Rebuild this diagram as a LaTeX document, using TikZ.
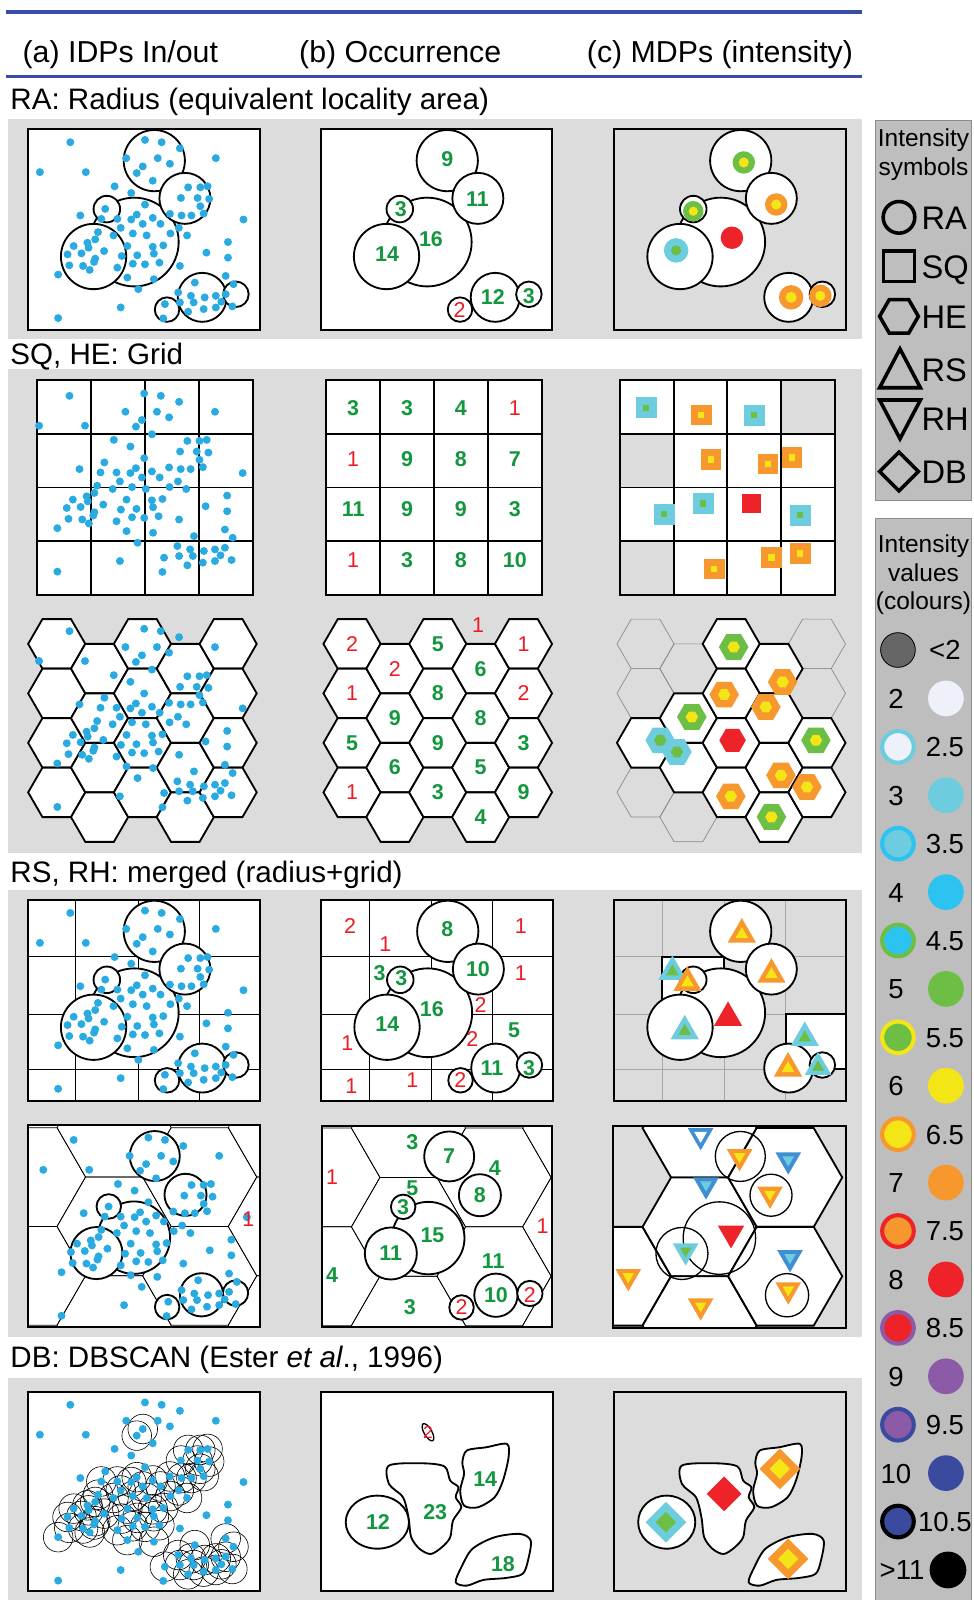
\documentclass[tikz,border=0pt]{standalone}
\usepackage{fontspec}
\setmainfont{Liberation Sans}
\usetikzlibrary{calc}

\definecolor{idpblue}{HTML}{29ABE2}
\definecolor{numgreen}{HTML}{12973F}
\definecolor{numred}{HTML}{ED1C24}
\definecolor{bandgray}{HTML}{DCDCDC}
\definecolor{legendgray}{HTML}{BEBEBE}
\definecolor{rulenavy}{HTML}{3A4DA6}
\definecolor{vwhite}{HTML}{EEF0FA}
\definecolor{vcyan}{HTML}{6DCCDD}
\definecolor{vblue}{HTML}{2DC3F0}
\definecolor{vgreen}{HTML}{6DBE45}
\definecolor{vyellow}{HTML}{F4E516}
\definecolor{vorange}{HTML}{F7982E}
\definecolor{vred}{HTML}{EE2229}
\definecolor{vpurple}{HTML}{8C5BA7}
\definecolor{vnavy}{HTML}{3A4B9F}
\definecolor{rhblue}{HTML}{3F8FD2}

% point sample (panel-local), third field: 1 = core point of a DBSCAN cluster
\newcommand\IDPdata{%
41.7/13.0/0,114.9/10.7/0,131.2/13.0/0,149.1/18.9/0,96.5/28.6/0,112.7/36.7/1,127.4/28.6/0,139.3/34.1/0,184.3/28.6/0,11.9/42.3/0,
56.9/42.3/0,106.8/43.2/1,122.5/50.7/0,85.1/56.2/0,101.4/62.7/0,157.2/57.2/1,169.1/57.2/1,176.2/56.2/1,150.1/67.6/1,166.4/67.6/1,
177.8/68.6/1,169.1/75.7/1,114.9/74.1/0,75.9/78.3/0,51.5/84.8/0,72.1/88.1/1,87.8/88.1/1,101.4/88.7/1,106.8/83.9/1,122.5/87.1/1,
139.3/83.2/1,150.7/84.8/1,160.4/84.8/1,172.4/82.9/1,211.4/88.7/0,112.7/93.0/1,130.1/93.0/1,91.1/96.9/1,148.0/96.9/1,68.8/101.1/1,
84.0/104.3/1,103.0/102.4/1,116.5/104.3/1,139.8/102.4/1,156.1/104.3/1,66.1/108.2/1,58.5/111.5/1,45.0/114.7/1,59.6/116.4/1,97.6/114.7/1,
122.5/115.4/1,132.8/114.1/1,196.2/110.8/0,39.0/122.9/1,52.6/121.9/1,66.1/127.1/1,74.8/119.6/1,92.1/124.5/1,107.3/123.8/1,123.6/122.2/1,
175.1/121.2/0,196.2/126.1/0,65.0/130.3/1,40.7/133.6/1,54.2/134.2/1,60.7/138.1/1,87.8/135.9/1,103.0/132.0/1,114.9/132.6/1,129.0/131.0/1,
149.1/134.2/0,29.8/142.7/1,97.6/145.6/1,123.6/147.2/1,163.7/150.5/1,194.0/144.0/1,108.4/157.0/0,147.4/160.2/1,201.6/152.1/1,159.9/163.5/1,
173.4/165.1/1,184.3/163.5/1,194.0/161.9/1,134.4/171.6/1,149.1/170.0/1,162.6/170.0/1,172.4/176.5/1,184.3/174.9/1,189.7/169.3/1,200.5/173.9/1,
91.1/174.9/0,29.8/185.3/0,132.8/185.6/0,157.2/179.1/1}
\newcommand\IDPs{\foreach \px/\py/\core in \IDPdata {\fill[idp] (\px,\py) circle[radius=3.9];}}
\newcommand\EpsRings{\foreach \px/\py/\core in \IDPdata {\ifnum\core=1 \draw[eps] (\px,\py) circle[radius=14.5];\fi}}

% symbol outlines
\newcommand\shpRA[1]{(0,0) circle[radius=#1]}
\newcommand\shpSQ[1]{(-#1,-#1) rectangle (#1,#1)}
\newcommand\shpHE[1]{(0:#1) -- (60:#1) -- (120:#1) -- (180:#1) -- (240:#1) -- (300:#1) -- cycle}
\newcommand\shpRS[1]{(-90:#1) -- (30:#1) -- (150:#1) -- cycle}
\newcommand\shpRH[1]{(90:#1) -- (210:#1) -- (330:#1) -- cycle}
\newcommand\shpDB[1]{(0:#1) -- (90:#1) -- (180:#1) -- (270:#1) -- cycle}
% intensity mark: shape, x, y, size, outer, inner, inner ratio
\newcommand\IntMark[7]{%
  \begin{scope}[shift={(#2,#3)}]
    \expandafter\let\expandafter\markshape\csname shp#1\endcsname
    \pgfmathsetmacro\markinner{#4*#7}
    \fill[#5] \markshape{#4};
    \fill[#6] \markshape{\markinner};
  \end{scope}}

% radius zones (RA, RS)
\newcommand\RAzones[2]{%
  \draw[#1] (124,31) circle[radius=30];
  \draw[#1] (104.4,110.8) circle[radius=43.5];
  \draw[#1] (154,68) circle[radius=25];
  \draw[#1] (64.5,125) circle[radius=32];
  \draw[#1] (77.5,78.5) circle[radius=13];
  \draw[#1] (171,165) circle[radius=24];
  \ifnum#2=1 \draw[#1] (136.5,177) circle[radius=12];\fi
  \draw[#1] (204,162) circle[radius=12.5];}
% radius zones (RH)
\newcommand\RHzones[2]{%
  \draw[#1] (124.5,30) circle[radius=24.5];
  \draw[#1] (154.6,68) circle[radius=20.6];
  \draw[#1] (104,110) circle[radius=35.5];
  \ifnum#2=1 \draw[#1] (79.4,79.4) circle[radius=12];\fi
  \draw[#1] (67.3,125.1) circle[radius=25.5];
  \draw[#1] (170.3,166) circle[radius=21.2];
  \ifnum#2=1 \draw[#1] (136.6,178) circle[radius=12];
    \draw[#1] (203.6,164.3) circle[radius=12.4];\fi}
\newcommand\RSgrid[1]{%
  \foreach \gx in {47,108,168} {\draw[#1] (\gx,0) -- (\gx,197.3);}
  \foreach \gy in {56,112,166} {\draw[#1] (0,\gy) -- (227.2,\gy);}}
\newcommand\SQgrid{%
  \foreach \k in {1,2,3} {\draw[frame] (52.8*\k,0) -- (52.8*\k,210.5);
    \draw[frame] (0,52.63*\k) -- (211.2,52.63*\k);}
  \draw[frame] (0,0) rectangle (211.2,210.5);}

% hexagons
\newcommand\bighex{(55.9,0) -- (27.95,48.4) -- (-27.95,48.4) -- (-55.9,0) -- (-27.95,-48.4) -- (27.95,-48.4) -- cycle}
\newcommand\RHcentres{0.7/50.6,0.7/147.4,84.6/2.2,84.6/99,84.6/195.8,168.5/50.6,168.5/147.4,252.4/2.2,252.4/99,252.4/195.8}
\newcommand\smallhex{(28,0) -- (14,24.25) -- (-14,24.25) -- (-28,0) -- (-14,-24.25) -- (14,-24.25) -- cycle}
\newcommand\HEall{0/0,0/1,0/2,0/3,1/0,1/1,1/2,1/3,2/0,2/1,2/2,2/3,3/0,3/1,3/2,3/3,4/0,4/1,4/2,4/3}
\newcommand\HEcells[2]{\foreach \i/\j in #2 {%
  \pgfmathsetmacro\hx{28+42*\i}\pgfmathsetmacro\hy{24.25+48.5*\j+24.25*mod(\i,2)}%
  \draw[#1,shift={(\hx,\hy)}] \smallhex;}}

% DBSCAN clusters
\newcommand\blobTwentyThree{plot[smooth cycle] coordinates {(66.4,72.5) (99.1,70.3) (120.9,73.5) (126.4,87.3) (134.5,93.8) (131.8,103.6) (137.3,113.4) (129.1,126.5) (126.4,142.8) (118.2,152.6) (107.3,159.2) (96.4,154.2) (88.2,142.8) (85.5,123.2) (80.1,103.6) (66.4,90.5)}}
\newcommand\blobFourteen{plot[smooth cycle] coordinates {(142.7,57.8) (161.8,54.6) (181.9,51.3) (183.6,64.4) (178.1,87.3) (169.9,103.6) (153.6,113.4) (140.0,111.8) (136.2,97.1) (140.0,80.7) (138.3,69.3)}}
\newcommand\blobEighteen{plot[smooth cycle] coordinates {(131.8,186.9) (137.3,172.2) (148.1,154.2) (169.9,142.8) (194.4,139.5) (205.3,146.1) (202.6,165.7) (197.2,178.8) (180.8,182.7) (159.0,184.6) (142.7,190.2)}}

\begin{document}
\begin{tikzpicture}[x=1pt,y=-1pt,
    idp/.style={fill=idpblue},
    zone/.style={draw=black, line width=1.8, fill=white},
    thinzone/.style={draw=black, line width=1.3},
    eps/.style={draw=black, line width=0.6},
    frame/.style={draw=black, line width=1.9},
    cell/.style={draw=black, line width=1.9, fill=white},
    hexcell/.style={draw=black, line width=1.8, fill=white},
    greyhex/.style={draw=black!45, line width=0.7},
    thingrid/.style={draw=black, line width=0.7},
    greygrid/.style={draw=black!35, line width=0.7},
    num/.style={text=numgreen, font=\bfseries\fontsize{21}{21}\selectfont, inner sep=0pt},
    rnum/.style={text=numred, font=\fontsize{21}{21}\selectfont, inner sep=0pt},
    head/.style={anchor=base west, inner sep=0pt, font=\fontsize{29.7}{30}\selectfont},
    title/.style={anchor=base west, inner sep=0pt, font=\fontsize{29}{29}\selectfont},
    legendbox/.style={draw=black!45, fill=legendgray, line width=0.8},
    legendline/.style={draw=black, line width=3.5},
    legendtxt/.style={anchor=base, inner sep=0pt, font=\fontsize{24}{24}\selectfont},
    legnum/.style={anchor=base, inner sep=0pt, font=\fontsize{27}{27}\selectfont},
    legsym/.style={anchor=base west, inner sep=0pt, font=\fontsize{32}{32}\selectfont}
]
    \useasboundingbox (0,0) rectangle (954,1568);
    \fill[white] (0,0) rectangle (954,1568);

    % column heads
    \draw[rulenavy, line width=3.5] (6,12) -- (845,12);
    \draw[rulenavy, line width=3.5] (6,75) -- (845,75);
    \node[head] (head-a) at (22,61.5) {(a) IDPs In/out};
    \node[head] (head-b) at (293,61.5) {(b) Occurrence};
    \node[head] (head-c) at (575,61.5) {(c) MDPs (intensity)};

    % ---------------- RA
    \fill[bandgray] (8,117) rectangle (845,332);
    \node[title] (ra-title) at (10,107.5) {RA: Radius (equivalent locality area)};
    \begin{scope}[shift={(27.2,126.4)}]
        \fill[white] (0,0) rectangle (227.2,197);
        \RAzones{zone}{1}
        \IDPs
        \draw[frame] (0,0) rectangle (227.2,197);
    \end{scope}
    \begin{scope}[shift={(314.3,126.4)}]
        \fill[white] (0,0) rectangle (226.5,197);
        \RAzones{zone}{1}
        \node[num] (ra-n9) at (124,29.6) {9};
        \node[num] (ra-n11) at (153.7,68.6) {11};
        \node[num] (ra-n3a) at (78.5,78.3) {3};
        \node[num] (ra-n16) at (108,107.6) {16};
        \node[num] (ra-n14) at (65,123) {14};
        \node[num] (ra-n12) at (168.6,165) {12};
        \node[num] (ra-n3b) at (204,164) {3};
        \node[rnum] (ra-n2) at (136,177.5) {2};
        \draw[frame] (0,0) rectangle (226.5,197);
    \end{scope}
    \begin{scope}[shift={(601.9,126.4)}]
        \RAzones{zone}{0}
        \IntMark{RA}{127}{32.8}{11}{vgreen}{vyellow}{0.45}
        \IntMark{RA}{158.8}{74}{11}{vorange}{vyellow}{0.45}
        \IntMark{RA}{77.5}{80.6}{10}{vgreen}{vyellow}{0.45}
        \IntMark{RA}{115.4}{106.6}{11}{vred}{vred}{0.45}
        \IntMark{RA}{60.7}{119}{12}{vcyan}{vgreen}{0.42}
        \IntMark{RA}{173.4}{165}{12}{vorange}{vyellow}{0.45}
        \IntMark{RA}{202}{163.5}{11}{vorange}{vyellow}{0.45}
        \draw[frame] (0,0) rectangle (227.1,197);
    \end{scope}

    % ---------------- SQ, HE
    \fill[bandgray] (8,362) rectangle (845,836);
    \node[title] (sq-title) at (10,357.5) {SQ, HE: Grid};
    \begin{scope}[shift={(36.5,372.5)}]
        \fill[white] (0,0) rectangle (211.2,210.5);
        \SQgrid
    \end{scope}
    \begin{scope}[shift={(26.4,374.9)}]
        \IDPs
    \end{scope}
    \begin{scope}[shift={(319.7,372.5)}]
        \fill[white] (0,0) rectangle (211.2,210.5);
        \SQgrid
        \foreach \i/\j/\v/\s in {0/0/3/num,1/0/3/num,2/0/4/num,3/0/1/rnum,
            0/1/1/rnum,1/1/9/num,2/1/8/num,3/1/7/num,
            0/2/11/num,1/2/9/num,2/2/9/num,3/2/3/num,
            0/3/1/rnum,1/3/3/num,2/3/8/num,3/3/10/num}
            {\node[\s] (sq-\i-\j) at ({26.4+52.8*\i},{27.5+49.5*\j}) {\v};}
    \end{scope}
    \begin{scope}[shift={(607.3,372.5)}]
        \fill[bandgray] (0,0) rectangle (211.2,210.5);
        \foreach \i/\j in {0/0,1/0,2/0,1/1,2/1,3/1,0/2,1/2,2/2,3/2,1/3,2/3,3/3}
            {\fill[white] ({52.8*\i},{52.63*\j}) rectangle +(52.8,52.63);}
        \SQgrid
        \foreach \mx/\my in {26.1/27.1,131.7/34.3,43.7/131.4,81.7/120.9,177/132.4}
            {\IntMark{SQ}{\mx}{\my}{10.3}{vcyan}{vgreen}{0.3}}
        \foreach \mx/\my in {80.1/34.3,89.7/77.8,145.4/82.4,168.7/75.8,92.7/185.3,148.7/173.9,177/169.9}
            {\IntMark{SQ}{\mx}{\my}{10}{vorange}{vyellow}{0.3}}
        \IntMark{SQ}{129.1}{120.9}{9.3}{vred}{vred}{0.3}
    \end{scope}

    \begin{scope}[shift={(27.6,606.75)}]
        \HEcells{hexcell}{\HEall}
    \end{scope}
    \begin{scope}[shift={(26.4,605.5)}]
        \IDPs
    \end{scope}
    \begin{scope}[shift={(317,606.75)}]
        \HEcells{hexcell}{\HEall}
        \foreach \i/\j/\v/\s in {0/0/2/rnum,0/1/1/rnum,0/2/5/num,0/3/1/rnum,
            1/0/2/rnum,1/1/9/num,1/2/6/num,
            2/0/5/num,2/1/8/num,2/2/9/num,2/3/3/num,
            3/0/6/num,3/1/8/num,3/2/5/num,3/3/4/num,
            4/0/1/rnum,4/1/2/rnum,4/2/3/num,4/3/9/num}
            {\node[\s] (he-\i-\j) at ({28+42*\i},{24.25+48.5*\j+24.25*mod(\i,2)}) {\v};}
        \node[rnum] (he-top) at (151.5,6) {1};
    \end{scope}
    \begin{scope}[shift={(604.6,606.75)}]
        \HEcells{greyhex}{{0/0,0/1,0/3,1/0,1/3,4/0,4/1}}
        \HEcells{hexcell}{{0/2,1/1,1/2,2/0,2/1,2/2,2/3,3/0,3/1,3/2,3/3,4/2,4/3}}
        \foreach \mx/\my in {114.4/27.25,73.4/95.85,195/118.75,151.4/193.85}
            {\IntMark{HE}{\mx}{\my}{14.5}{vgreen}{vyellow}{0.42}}
        \foreach \mx/\my in {162.4/61.55,105.1/73.95,145.9/86.05,160.7/153.05,186.2/164.45,111.6/173.65}
            {\IntMark{HE}{\mx}{\my}{14.5}{vorange}{vyellow}{0.42}}
        \IntMark{HE}{42.4}{118.75}{14.5}{vcyan}{vgreen}{0.42}
        \IntMark{HE}{58.8}{130.15}{14.5}{vcyan}{vgreen}{0.42}
        \IntMark{HE}{113.3}{118.75}{13}{vred}{vred}{0.42}
    \end{scope}

    % ---------------- RS, RH
    \fill[bandgray] (8,872) rectangle (845,1310);
    \node[title] (rs-title) at (10,864.5) {RS, RH: merged (radius+grid)};
    \begin{scope}[shift={(27.2,881.7)}]
        \fill[white] (0,0) rectangle (227.2,197.3);
        \RSgrid{thingrid}
        \RAzones{zone}{1}
        \IDPs
        \draw[frame] (0,0) rectangle (227.2,197.3);
    \end{scope}
    \begin{scope}[shift={(314.8,881.7)}]
        \fill[white] (0,0) rectangle (227.2,197.3);
        \RSgrid{thingrid}
        \RAzones{zone}{1}
        \foreach \lx/\ly/\v/\s [count=\n] in {28.2/25.8/2/rnum,62.7/43.1/1/rnum,123.7/28.4/8/num,195.5/25.8/1/rnum,
            57.2/71.9/3/num,78.4/76.4/3/num,153.6/67.6/10/num,195.5/71.9/1/rnum,
            108.4/107.5/16/num,156.2/103.6/2/rnum,64.8/122.2/14/num,189/128.1/5/num,
            148.2/136.2/2/rnum,25.6/140.5/1/rnum,167.2/164.7/11/num,203.7/164.7/3/num,
            29.4/183/1/rnum,89.3/177.1/1/rnum,136.2/176.4/2/rnum}
            {\node[\s] (rs-n\n) at (\lx,\ly) {\v};}
        \draw[frame] (0,0) rectangle (227.2,197.3);
    \end{scope}
    \begin{scope}[shift={(601.9,881.7)}]
        \fill[bandgray] (0,0) rectangle (227.2,197.3);
        \RSgrid{greygrid}
        \draw[cell] (47,56) rectangle (108,112);
        \draw[cell] (168,112) rectangle (227.2,166);
        \RAzones{zone}{0}
        \IntMark{RS}{57.1}{70.6}{16}{vcyan}{vgreen}{0.45}
        \IntMark{RS}{71.8}{81.4}{16}{vorange}{vyellow}{0.45}
        \IntMark{RS}{125.1}{34}{16}{vorange}{vyellow}{0.45}
        \IntMark{RS}{154.1}{73.3}{16}{vorange}{vyellow}{0.45}
        \IntMark{RS}{111.6}{115.7}{16}{vred}{vred}{0.45}
        \IntMark{RS}{69.1}{128.8}{16}{vcyan}{vgreen}{0.45}
        \IntMark{RS}{186.8}{135.3}{16}{vcyan}{vgreen}{0.45}
        \IntMark{RS}{170.4}{165.3}{16}{vorange}{vyellow}{0.45}
        \IntMark{RS}{199.8}{164.1}{15}{vcyan}{vgreen}{0.45}
        \draw[frame] (0,0) rectangle (227.2,197.3);
    \end{scope}

    \begin{scope}[shift={(27.2,1102.9)}]
        \fill[white] (0,0) rectangle (227.2,197.7);
        \begin{scope}
            \clip (0,0) rectangle (227.2,197.7);
            \foreach \hx/\hy in \RHcentres {\draw[thingrid,shift={(\hx,\hy)}] \bighex;}
        \end{scope}
        \RHzones{zone}{1}
        \begin{scope}[shift={(3.3,1.2)}]
            \IDPs
        \end{scope}
        \node[rnum] (rh-a1) at (216.2,91.5) {1};
        \draw[frame] (0,0) rectangle (227.2,197.7);
    \end{scope}
    \begin{scope}[shift={(315.7,1103.3)}]
        \fill[white] (0,0) rectangle (224.8,197);
        \begin{scope}
            \clip (0,0) rectangle (224.8,197);
            \foreach \hx/\hy in \RHcentres {\draw[thingrid,shift={(\hx,\hy)}] \bighex;}
        \end{scope}
        \RHzones{zone}{1}
        \foreach \lx/\ly/\v/\s [count=\n] in {88.5/15.6/3/num,124.5/29.4/7/num,9.8/49.9/1/rnum,169.3/41/4/num,
            154.6/68/8/num,88.5/61.4/5/num,79.4/79.4/3/num,216/98/1/rnum,
            108.1/107.2/15/num,67.3/125.1/11/num,9.8/146.4/4/num,167.6/132.7/11/num,
            170.3/166/10/num,136.6/178/2/rnum,203.6/165.9/2/rnum,86/177.4/3/num}
            {\node[\s] (rh-n\n) at (\lx,\ly) {\v};}
        \draw[frame] (0,0) rectangle (224.8,197);
    \end{scope}
    \begin{scope}[shift={(601,1103.3)}]
        \fill[bandgray] (0,0) rectangle (227.7,198);
        \begin{scope}
            \clip (0,0) rectangle (227.7,198);
            \foreach \hx/\hy in {0.7/147.4,84.6/2.2,84.6/99,84.6/195.8,168.5/50.6,168.5/147.4}
                {\draw[hexcell,shift={(\hx,\hy)}] \bighex;}
        \end{scope}
        \RHzones{thinzone}{0}
        \IntMark{RH}{85.6}{9.5}{14.5}{rhblue}{white}{0.5}
        \IntMark{RH}{123.8}{30.1}{14.5}{vorange}{vyellow}{0.45}
        \IntMark{RH}{171.5}{33.3}{14.5}{rhblue}{vcyan}{0.45}
        \IntMark{RH}{90.9}{57.8}{14.5}{rhblue}{vcyan}{0.45}
        \IntMark{RH}{153.6}{66.9}{14.5}{vorange}{vyellow}{0.45}
        \IntMark{RH}{115.4}{105.2}{15}{vred}{vred}{0.45}
        \IntMark{RH}{70.9}{122.5}{14.5}{vcyan}{vgreen}{0.45}
        \IntMark{RH}{173.2}{129.1}{14.5}{rhblue}{vcyan}{0.45}
        \IntMark{RH}{14.7}{147.7}{14.5}{vorange}{vyellow}{0.45}
        \IntMark{RH}{171.5}{160.7}{14.5}{vorange}{vyellow}{0.45}
        \IntMark{RH}{85.6}{176.4}{14.5}{vorange}{vyellow}{0.45}
        \draw[frame] (0,0) rectangle (227.7,198);
    \end{scope}

    % ---------------- DB
    \fill[bandgray] (8,1350) rectangle (845,1575);
    \node[title] (db-title) at (10,1340) {DB: DBSCAN (Ester \textit{et al}., 1996)};
    \begin{scope}[shift={(27.2,1363.7)}]
        \fill[white] (0,0) rectangle (227.2,195.8);
        \EpsRings
        \IDPs
        \draw[frame] (0,0) rectangle (227.2,195.8);
    \end{scope}
    \begin{scope}[shift={(314.8,1363.7)}]
        \fill[white] (0,0) rectangle (227.1,195.8);
        \draw[zone] (55,128) ellipse[x radius=31, y radius=26];
        \draw[zone] \blobTwentyThree;
        \draw[zone] \blobFourteen;
        \draw[zone] \blobEighteen;
        \draw[zone, line width=1.3, rotate around={-60:(104.6,39.9)}] (104.6,39.9) ellipse[x radius=9.5, y radius=3.8];
        \node[rnum, font=\fontsize{17}{17}\selectfont] (db-n2) at (104.6,39.9) {2};
        \node[num] (db-n12) at (55.6,128.1) {12};
        \node[num] (db-n23) at (111.7,118.3) {23};
        \node[num] (db-n14) at (160.7,85.6) {14};
        \node[num] (db-n18) at (178.1,169) {18};
        \draw[frame] (0,0) rectangle (227.1,195.8);
    \end{scope}
    \begin{scope}[shift={(601.9,1363.7)}]
        \fill[bandgray] (0,0) rectangle (227.1,195.8);
        \draw[zone] (51.5,128) ellipse[x radius=28, y radius=26];
        \draw[zone] \blobTwentyThree;
        \draw[zone] \blobFourteen;
        \draw[zone] \blobEighteen;
        \IntMark{DB}{50.7}{128.1}{20}{vcyan}{vgreen}{0.5}
        \IntMark{DB}{107.8}{100.3}{17}{vred}{vred}{0.5}
        \IntMark{DB}{162.3}{75.8}{20}{vorange}{vyellow}{0.5}
        \IntMark{DB}{170.5}{164}{20}{vorange}{vyellow}{0.5}
        \draw[frame] (0,0) rectangle (227.1,195.8);
    \end{scope}

    % ---------------- legends
    \draw[legendbox] (858,118) rectangle (952,490);
    \node[legendtxt] (sym-head1) at (905,143.6) {Intensity};
    \node[legendtxt] (sym-head2) at (905,171.6) {symbols};
    \draw[legendline] (881,213) circle[radius=15.5];
    \draw[legendline] (866,246) rectangle (896,276);
    \draw[legendline, shift={(881,310)}] (0:19) -- (60:19) -- (120:19) -- (180:19) -- (240:19) -- (300:19) -- cycle;
    \draw[legendline] (882,342) -- (902,380) -- (862,380) -- cycle;
    \draw[legendline] (862,392) -- (902,392) -- (882,430) -- cycle;
    \draw[legendline] (881,443) -- (900,462) -- (881,481) -- (862,462) -- cycle;
    \foreach \lab/\ly in {RA/213,SQ/261,HE/310,RS/362,RH/410,DB/462}
        {\node[legsym] (sym-\lab) at (903,\ly+11.5) {\lab};}

    \draw[legendbox] (858,508) rectangle (952,1580);
    \node[legendtxt] (val-head1) at (905,541.6) {Intensity};
    \node[legendtxt] (val-head2) at (905,569.6) {values};
    \node[legendtxt] (val-head3) at (905,597.6) {(colours)};
    \filldraw[fill=black!60, draw=black, line width=0.8] (880,637) circle[radius=17];
    \node[legnum] (val-lt2) at (926,646.7) {<2};
    \foreach \row/\val/\col in {1/2/vwhite,3/3/vcyan,5/4/vblue,7/5/vgreen,9/6/vyellow,
        11/7/vorange,13/8/vred,15/9/vpurple,17/10/vnavy} {
        \fill[\col] (927,{637+47.45*\row}) circle[radius=17.5];
        \node[legnum] (val-\row) at (878,{646.7+47.45*\row}) {\val};
    }
    \foreach \row/\val/\fc/\rc in {2/2.5/vwhite/vcyan,4/3.5/vcyan/vblue,6/4.5/vblue/vgreen,
        8/5.5/vgreen/vyellow,10/6.5/vyellow/vorange,12/7.5/vorange/vred,
        14/8.5/vred/vpurple,16/9.5/vpurple/vnavy,18/10.5/vnavy/black} {
        \filldraw[fill=\fc, draw=\rc, line width=4] (880,{637+47.45*\row}) circle[radius=15.5];
        \node[legnum] (val-\row) at (926,{646.7+47.45*\row}) {\val};
    }
    \node[legnum] (val-gt11) at (884,{646.7+47.45*19}) {>11};
    \fill[black] (929,{637+47.45*19}) circle[radius=18];
\end{tikzpicture}
\end{document}
